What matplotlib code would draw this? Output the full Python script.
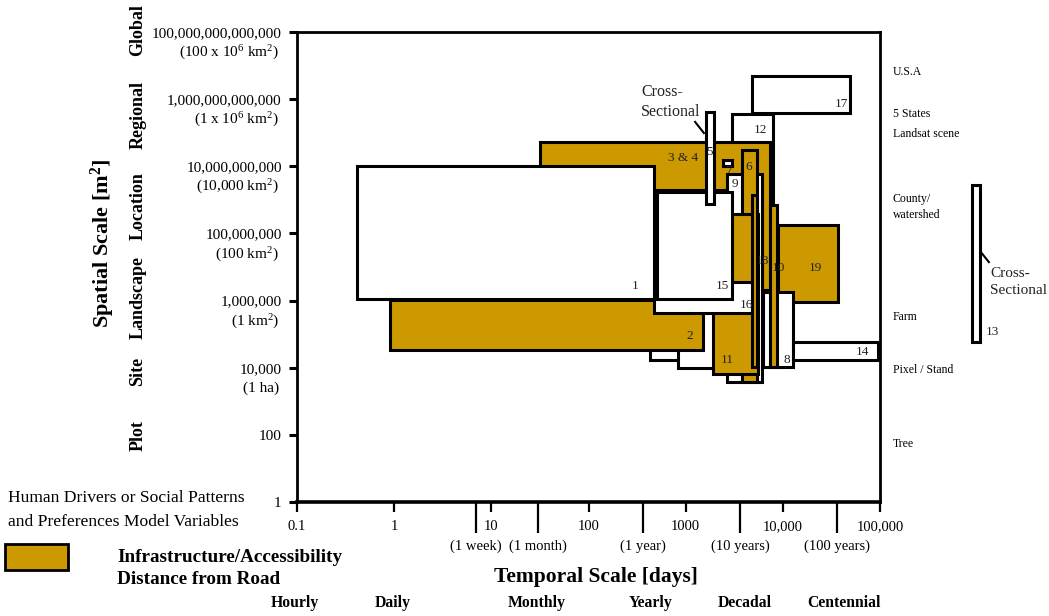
import matplotlib
matplotlib.use('Agg')
import matplotlib.pyplot as plt
from matplotlib.patches import Rectangle
from matplotlib import transforms as mtransforms

plt.rcParams['font.family'] = ['Liberation Serif', 'DejaVu Serif']
plt.rcParams['mathtext.fontset'] = 'custom'
plt.rcParams['mathtext.rm'] = 'Liberation Serif'
plt.rcParams['mathtext.it'] = 'Liberation Serif:italic'
plt.rcParams['mathtext.bf'] = 'Liberation Serif:bold'

GOLD = '#cc9900'

# ---------------- data ----------------
# study rectangles, listed back to front: temporal extent [days], spatial extent [m^2]
rect_names = ['17', '12', '3', '4', '1', 'w1', 'w2', '2', '9', '6', '11',
              '16', '15', '5', '18', '7', '19', '8', '10', '14', '13']
t_start = [4800, 3000, 32, 130, 0.41, 430, 830, 0.9, 2660, 3800, 1900,
           472, 507, 1620, 4800, 2400, 8900, 6250, 7400, 12700, 8.85e5]
t_end = [49000, 7900, 7400, 6100, 472, 1400, 2250, 1510, 6100, 5400, 5550,
         4930, 3000, 1950, 5400, 3000, 37000, 12700, 8700, 95000, 1.07e6]
a_low = [4e11, 7e8, 2e6, 1.5e6, 1.1e6, 1.7e4, 9800, 3.4e4, 3760, 3760, 6500,
         4.3e5, 1.1e6, 7.5e8, 1.05e4, 1e10, 9.1e5, 1.05e4, 1.05e4, 1.7e4, 5.8e4]
a_high = [5e12, 3.6e11, 5.3e10, 2e9, 1e10, 1e6, 2e6, 1.04e6, 5.9e9, 3.1e10, 3.8e8,
          3.6e6, 1.7e9, 4.1e11, 1.4e9, 1.5e10, 1.8e8, 1.8e6, 7e8, 5.8e4, 2.8e9]
infrastructure = [False, False, True, True, False, False, False, True, False, True, True,
                  False, False, False, True, False, True, False, True, False, False]

# study number labels
label_text = ['1', '2', '3 & 4', '5', '6', '7', '8', '9', '10', '11', '12', '13',
              '14', '15', '16', '17', '18', '19']
label_t = [300, 1100, 950, 1780, 4490, 2730, 11000, 3220, 9100, 2660, 5820, 1.42e6,
           65300, 2370, 4180, 40600, 6100, 21400]
label_a = [2.7e6, 8.8e4, 1.77e10, 2.7e10, 9.5e9, 7.2e9, 1.7e4, 3e9, 9.3e6, 1.7e4, 1.2e11, 1.16e5,
           2.9e4, 2.7e6, 7.4e5, 7.2e11, 1.5e7, 9.3e6]

# axes ticks
x_ticks = [0.1, 1, 10, 100, 1000, 1e4, 1e5]
x_tick_labels = ['0.1', '1', '10', '100', '1000', '10,000', '100,000']
x_period_ticks = [7, 30, 365, 3650, 36500]
x_period_labels = ['(1 week)', '(1 month)', '(1 year)', '(10 years)', '(100 years)']
y_ticks = [1, 1e2, 1e4, 1e6, 1e8, 1e10, 1e12, 1e14]
y_tick_labels = ['1', '100', '10,000', '1,000,000', '100,000,000', '10,000,000,000',
                 '1,000,000,000,000', '100,000,000,000,000']
y_sub_labels = ['', '', '(1 ha)', '(1 km$^2$)', '(100 km$^2$)', '(10,000 km$^2$)',
                '(1 x 10$^6$ km$^2$)', '(100 x 10$^6$ km$^2$)']

# spatial category names (left) and example extents (right)
space_cats = ['Global', 'Regional', 'Location', 'Landscape', 'Site', 'Plot']
space_cat_a = [1.15e14, 3.4e11, 6.6e8, 1.2e6, 7.5e3, 93]
extent_names = ['U.S.A', '5 States', 'Landsat scene', 'County/\nwatershed', 'Farm',
                'Pixel / Stand', 'Tree']
extent_a = [6.4e12, 3.6e11, 9.2e10, 6.1e8, 3.2e5, 8.5e3, 53]

# temporal categories (bottom)
time_cats = ['Hourly', 'Daily', 'Monthly', 'Yearly', 'Decadal', 'Centennial']
time_cat_t = [0.095, 0.97, 29, 440, 4070, 42600]

# ---------------- figure ----------------
fig = plt.figure(figsize=(10.49, 6.16), dpi=100)
ax = fig.add_axes([297 / 1049, 1 - 502 / 616, 583 / 1049, 470 / 616])
ax.set_xscale('log')
ax.set_yscale('log')
ax.set_xlim(0.1, 1e5)
ax.set_ylim(1, 1e14)

for t0, t1, a0, a1, g in zip(t_start, t_end, a_low, a_high, infrastructure):
    ax.add_patch(Rectangle((t0, a0), t1 - t0, a1 - a0,
                           facecolor=GOLD if g else 'white',
                           edgecolor='black', linewidth=2.2, clip_on=False))

for s, t, a in zip(label_text, label_t, label_a):
    ax.text(t, a, s, ha='center', va='center', fontsize=9.5, color='#222222',
            clip_on=False)

# cross-sectional annotations
ax.text(347, 8.2e11, 'Cross-\nSectional', ha='left', va='center', fontsize=11.5,
        color='#222222', linespacing=1.3)
ax.plot([1250, 1540], [2.1e11, 9.8e10], color='black', lw=1.5)
ax.text(1.36e6, 3.6e6, 'Cross-\nSectional', ha='left', va='center', fontsize=11,
        color='#222222', linespacing=1.35, clip_on=False)
ax.plot([1.09e6, 1.32e6], [2.8e7, 1.4e7], color='black', lw=1.5, clip_on=False)

# spines & ticks
for sp in ax.spines.values():
    sp.set_linewidth(2)
ax.spines['bottom'].set_linewidth(2.6)

ax.set_xticks(x_ticks)
ax.set_xticklabels(x_tick_labels)
ax.set_xticks(x_period_ticks, minor=True)
ax.set_xticklabels(x_period_labels, minor=True)
ax.tick_params(axis='x', which='major', direction='out', length=7, width=1.6,
               pad=6, labelsize=10.5)
ax.tick_params(axis='x', which='minor', direction='out', length=22, width=1.6,
               pad=5, labelsize=10.5)
ax.set_yticks(y_ticks)
ax.set_yticklabels(y_tick_labels)
ax.set_yticks([], minor=True)
ax.tick_params(axis='y', which='major', direction='out', length=6, width=2.2,
               pad=5, labelsize=11)

ytrans = mtransforms.blended_transform_factory(ax.transAxes, ax.transData)
sub_trans = mtransforms.offset_copy(ytrans, fig=fig, x=0, y=-21, units='dots')
for a, s in zip(y_ticks, y_sub_labels):
    if s:
        ax.text(-0.031, a, s, transform=sub_trans, ha='right', va='center',
                fontsize=11, clip_on=False)

for s, a in zip(space_cats, space_cat_a):
    ax.text(-0.2727, a, s, transform=ytrans, rotation=90, ha='center', va='center',
            fontsize=13, fontweight='bold', clip_on=False)

for s, a in zip(extent_names, extent_a):
    ax.text(1.022, a, s, transform=ytrans, ha='left', va='center', fontsize=8.5,
            linespacing=1.35, clip_on=False)

ax.text(-0.333, 0.55, 'Spatial Scale [m$^\\mathbf{2}$]', transform=ax.transAxes,
        rotation=90, ha='center', va='center', fontsize=16, fontweight='bold')

xtrans = mtransforms.blended_transform_factory(ax.transData, ax.transAxes)
for s, t in zip(time_cats, time_cat_t):
    ax.text(t, -0.215, s, transform=xtrans, ha='center', va='center', fontsize=11.3,
            fontweight='bold', clip_on=False)
ax.text(0.513, -0.16, 'Temporal Scale [days]', transform=ax.transAxes, ha='center',
        va='center', fontsize=15.5, fontweight='bold')

# legend
fig.text(8 / 1049, 1 - 498 / 616, 'Human Drivers or Social Patterns', ha='left',
         va='center', fontsize=12.6)
fig.text(8 / 1049, 1 - 522 / 616, 'and Preferences Model Variables', ha='left',
         va='center', fontsize=12.6)
fig.patches.append(Rectangle((5 / 1049, 1 - 570 / 616), 63 / 1049, 26 / 616,
                             transform=fig.transFigure, facecolor=GOLD,
                             edgecolor='black', linewidth=2))
fig.text(117 / 1049, 1 - 557 / 616, 'Infrastructure/Accessibility', ha='left',
         va='center', fontsize=13.8, fontweight='bold')
fig.text(117 / 1049, 1 - 580 / 616, 'Distance from Road', ha='left',
         va='center', fontsize=13.8, fontweight='bold')

fig.savefig('out.png', dpi=100)
